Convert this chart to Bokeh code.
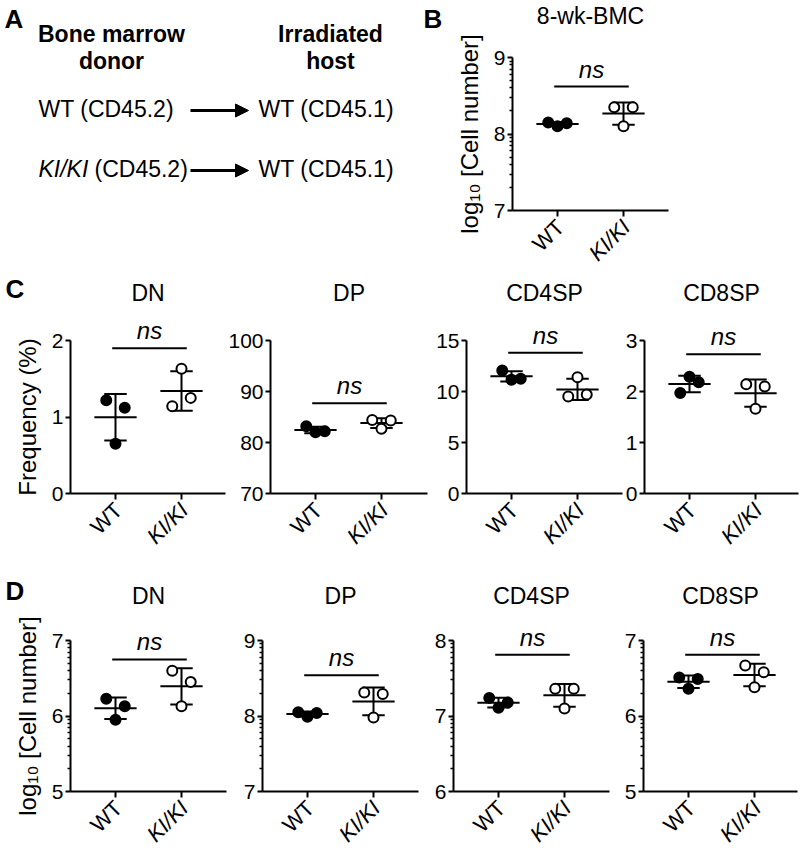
import math
import numpy as np
from bokeh.plotting import figure
from bokeh.layouts import column, row
from bokeh.models import Range1d, FixedTicker, LinearAxis, Arrow, NormalHead
from bokeh.core.properties import value
from bokeh.embed import file_html
from bokeh.resources import INLINE

FONT = "Liberation Sans"

# ---------------- data ----------------
GROUPS = ["WT", "KI/KI"]

# Panel B : 8-wk-BMC, log10 [Cell number]
B_TITLE = "8-wk-BMC"
B_WT = [8.15, 8.14, 8.10]
B_KI = [8.35, 8.35, 8.10]
B_NS = 8.62

# Panel C : Frequency (%)
C_TITLES = ["DN", "DP", "CD4SP", "CD8SP"]
C_DN_WT = [1.22, 1.12, 0.65]
C_DN_KI = [1.14, 1.25, 1.63]
C_DP_WT = [83.2, 82.2, 82.0]
C_DP_KI = [84.4, 84.3, 82.7]
C_CD4_WT = [12.06, 11.25, 11.15]
C_CD4_KI = [9.5, 9.7, 11.4]
C_CD8_WT = [1.97, 2.18, 2.29]
C_CD8_KI = [2.14, 2.10, 1.66]
C_NS = [1.90, 87.7, 13.8, 2.73]
C_YRANGE = [(0, 2), (70, 100), (0, 15), (0, 3)]
C_YTICKS = [[0, 1, 2], [70, 80, 90, 100], [0, 5, 10, 15], [0, 1, 2, 3]]

# Panel D : log10 [Cell number]
D_TITLES = ["DN", "DP", "CD4SP", "CD8SP"]
D_DN_WT = [6.23, 6.13, 5.95]
D_DN_KI = [6.60, 6.45, 6.13]
D_DP_WT = [8.05, 8.04, 7.99]
D_DP_KI = [8.31, 8.29, 7.98]
D_CD4_WT = [7.24, 7.18, 7.11]
D_CD4_KI = [7.36, 7.36, 7.10]
D_CD8_WT = [6.51, 6.49, 6.36]
D_CD8_KI = [6.67, 6.58, 6.38]
D_NS = [6.75, 8.54, 7.81, 6.81]
D_YRANGE = [(5, 7), (7, 9), (6, 8), (5, 7)]
D_YTICKS = [[5, 6, 7], [7, 8, 9], [6, 7, 8], [5, 6, 7]]

LOG_LABEL = "log\u2081\u2080 [Cell number]"
FREQ_LABEL = "Frequency (%)"

# ---------------- styling constants ----------------
PX = 66.0                 # pixels per x unit
X0 = 1 - 45 / PX          # start of x axis (data units)
JITTER = [-0.14, 0.14, 0.0]
MEAN_HALF = 0.32
CAP_HALF = 0.17
NS_X = (0.95, 2.08)
TICK_FS = "21px"
XLAB_FS = "22px"
TITLE_FS = "23px"
AXLABEL_FS = "24px"


def panel(title, wt, ki, yr, yticks, ns_y, fw, fh, left, right, top, bottom,
          title_gap, log=False, ylabel=None, letter=None, letter_px=(0, 0)):
    sy = fh / (yr[1] - yr[0])
    W = left + fw + right
    H = top + fh + bottom
    p = figure(width=W, height=H,
               x_range=Range1d(X0 - left / PX, X0 + (fw + right) / PX),
               y_range=Range1d(yr[0] - bottom / sy, yr[1] + top / sy),
               output_backend="svg", toolbar_location=None, title_location=None,
               x_axis_type=None, y_axis_type=None, min_border=0)
    p.outline_line_color = None

    def px_x(px):
        return X0 + (px - left) / PX

    def px_y(py):
        return yr[1] + (top - py) / sy

    # x axis at the bottom of the data area
    xa = LinearAxis(fixed_location=yr[0], bounds=(X0, X0 + fw / PX),
                    ticker=FixedTicker(ticks=[1, 2], minor_ticks=[]),
                    major_label_overrides={1: "", 2: ""})
    xa.axis_line_width = 2
    xa.major_tick_line_width = 2
    xa.major_tick_out = 6
    xa.major_tick_in = 0
    xa.minor_tick_line_color = None
    p.add_layout(xa, "below")

    # y axis
    minors = []
    if log:
        minors = [b + math.log10(k) for b in range(int(yr[0]), int(yr[1]))
                  for k in range(2, 10)]
    ya = LinearAxis(fixed_location=X0, bounds=(yr[0], yr[1]),
                    ticker=FixedTicker(ticks=yticks, minor_ticks=minors))
    ya.axis_line_width = 2
    ya.major_tick_line_width = 2
    ya.major_tick_out = 5
    ya.major_tick_in = 0
    ya.minor_tick_out = 3
    ya.minor_tick_in = 0
    ya.minor_tick_line_width = 1.5
    if not log:
        ya.minor_tick_line_color = None
    ya.major_label_text_font = FONT
    ya.major_label_text_font_size = TICK_FS
    ya.major_label_text_color = "black"
    ya.major_label_standoff = 2
    if ylabel:
        ya.axis_label = ylabel
        ya.axis_label_text_font = FONT
        ya.axis_label_text_font_size = AXLABEL_FS
        ya.axis_label_text_font_style = "normal"
        ya.axis_label_text_color = "black"
        ya.axis_label_standoff = 8
    p.add_layout(ya, "left")

    # title
    p.text(x=[X0 + fw / (2 * PX)], y=[yr[1] + title_gap / sy], text=[title],
           text_font=value(FONT), text_font_size=value(TITLE_FS),
           text_align=value("center"), text_baseline=value("middle"), text_color="black")

    # groups: mean line, SD whiskers, points, rotated category label
    for gi, vals in enumerate([wt, ki]):
        xc = gi + 1
        m = float(np.mean(vals))
        s = float(np.std(vals, ddof=1))
        p.segment(x0=[xc - MEAN_HALF, xc, xc - CAP_HALF, xc - CAP_HALF],
                  y0=[m, m - s, m + s, m - s],
                  x1=[xc + MEAN_HALF, xc, xc + CAP_HALF, xc + CAP_HALF],
                  y1=[m, m + s, m + s, m - s],
                  line_color="black", line_width=2)
        p.scatter(x=[xc + j for j in JITTER], y=vals, marker="circle", size=10,
                  fill_color="black" if gi == 0 else "white",
                  line_color="black", line_width=2)
        p.text(x=[xc - 6 / PX], y=[yr[0] - 4 / sy], text=[GROUPS[gi]], angle=math.pi / 4,
               text_font=value(FONT), text_font_size=value(XLAB_FS),
               text_font_style=value("italic" if gi == 1 else "normal"),
               text_align=value("right"), text_baseline=value("top"), text_color="black")

    # ns bracket
    p.segment(x0=[NS_X[0]], y0=[ns_y], x1=[NS_X[1]], y1=[ns_y],
              line_color="black", line_width=2)
    p.text(x=[(NS_X[0] + NS_X[1]) / 2], y=[ns_y + 4 / sy], text=["ns"],
           text_font=value(FONT), text_font_size=value("24px"),
           text_font_style=value("italic"), text_align=value("center"),
           text_baseline=value("bottom"), text_color="black")

    if letter:
        lx, ly = letter_px
        p.text(x=[px_x(lx)], y=[px_y(ly)], text=[letter],
               text_font=value(FONT), text_font_size=value("26px"),
               text_font_style=value("bold"), text_align=value("left"),
               text_baseline=value("top"), text_color="black")
    return p


# ---------------- panel A (schematic) ----------------
TOP_H = 270
pa = figure(width=415, height=TOP_H, x_range=Range1d(0, 415), y_range=Range1d(TOP_H, 0),
            output_backend="svg", toolbar_location=None, title_location=None,
            x_axis_type=None, y_axis_type=None, min_border=0)
pa.outline_line_color = None

A_HEAD_L = ["Bone marrow", "donor"]
A_HEAD_R = ["Irradiated", "host"]
A_DONOR_WT = "WT (CD45.2)"
A_DONOR_KI = ["KI/KI", "(CD45.2)"]
A_HOST = "WT (CD45.1)"
A_FS = value("23px")

pa.text(x=[4], y=[3], text=["A"], text_font=value(FONT), text_font_size=value("26px"),
        text_font_style=value("bold"), text_align=value("left"), text_baseline=value("top"))
pa.text(x=[111, 111, 330, 330], y=[33, 60, 33, 60], text=A_HEAD_L + A_HEAD_R,
        text_font=value(FONT), text_font_size=A_FS, text_font_style=value("bold"),
        text_align=value("center"), text_baseline=value("middle"))
pa.text(x=[38, 258, 258], y=[108, 108, 168], text=[A_DONOR_WT, A_HOST, A_HOST],
        text_font=value(FONT), text_font_size=A_FS,
        text_align=value("left"), text_baseline=value("middle"))
pa.text(x=[38], y=[168], text=[A_DONOR_KI[0]], text_font=value(FONT), text_font_size=A_FS,
        text_font_style=value("italic"), text_align=value("left"), text_baseline=value("middle"))
pa.text(x=[94], y=[168], text=[A_DONOR_KI[1]], text_font=value(FONT), text_font_size=A_FS,
        text_align=value("left"), text_baseline=value("middle"))
for ay in (110, 170):
    pa.add_layout(Arrow(end=NormalHead(size=13, fill_color="black", line_color="black"),
                        x_start=190, y_start=ay, x_end=248, y_end=ay,
                        line_color="black", line_width=3))

# ---------------- panel B ----------------
pb = panel(B_TITLE, B_WT, B_KI, (7, 9), [7, 8, 9], B_NS, 156, 153, 97, 132, 57, TOP_H - 210,
           title_gap=42, log=True, ylabel=LOG_LABEL, letter="B", letter_px=(8, 3))

# ---------------- row C ----------------
C_DATA = [(C_DN_WT, C_DN_KI), (C_DP_WT, C_DP_KI), (C_CD4_WT, C_CD4_KI), (C_CD8_WT, C_CD8_KI)]
C_GEOM = [(155, 70, 1), (157, 44, 3), (156, 36, 2), (154, 20, 2)]
c_panels = []
for i in range(4):
    fw, l, r = C_GEOM[i]
    c_panels.append(panel(C_TITLES[i], C_DATA[i][0], C_DATA[i][1], C_YRANGE[i], C_YTICKS[i],
                          C_NS[i], fw, 153, l, r, 340 - TOP_H, 67, title_gap=48,
                          ylabel=FREQ_LABEL if i == 0 else None,
                          letter="C" if i == 0 else None, letter_px=(5, 273 - TOP_H)))

# ---------------- row D ----------------
D_DATA = [(D_DN_WT, D_DN_KI), (D_DP_WT, D_DP_KI), (D_CD4_WT, D_CD4_KI), (D_CD8_WT, D_CD8_KI)]
D_GEOM = [(156, 70, 6), (156, 30, 10), (156, 25, 11), (154, 23, 3)]
d_panels = []
for i in range(4):
    fw, l, r = D_GEOM[i]
    d_panels.append(panel(D_TITLES[i], D_DATA[i][0], D_DATA[i][1], D_YRANGE[i], D_YTICKS[i],
                          D_NS[i], fw, 151, l, r, 80, 59, title_gap=45, log=True,
                          ylabel=LOG_LABEL if i == 0 else None,
                          letter="D" if i == 0 else None, letter_px=(5, 15)))

layout = column(row(pa, pb), row(*c_panels), row(*d_panels))
open("out.html", "w").write(file_html(layout, INLINE, title="BMC chart"))
